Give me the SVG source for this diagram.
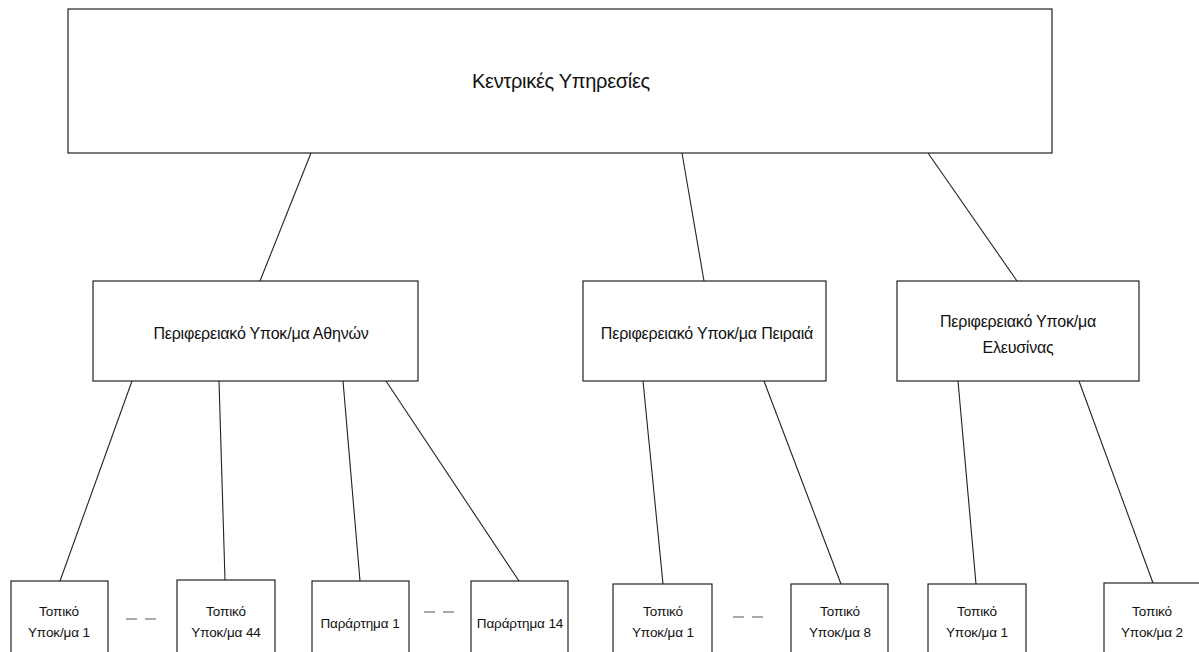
<svg xmlns="http://www.w3.org/2000/svg" width="1199" height="652" viewBox="0 0 1199 652">
  <style>
    .box { fill: #ffffff; stroke: #222222; stroke-width: 1.2; }
    .edge { stroke: #222222; stroke-width: 1.1; fill: none; }
    .dots { stroke: #555555; stroke-width: 1; stroke-dasharray: 11 8; fill: none; }
    text { font-family: "Liberation Sans", Arial, sans-serif; fill: #111111; text-anchor: middle; }
    .t1 { font-size: 20px; letter-spacing: -0.3px; }
    .t2 { font-size: 16px; letter-spacing: -0.2px; }
    .t3 { font-size: 13.5px; letter-spacing: -0.1px; }
  </style>
  <rect width="1199" height="652" fill="#ffffff"/>

  <!-- connectors -->
  <g id="connectors">
    <line class="edge" x1="311" y1="153" x2="260" y2="281"/>
    <line class="edge" x1="682" y1="153" x2="704" y2="281"/>
    <line class="edge" x1="928" y1="153" x2="1017" y2="281"/>
    <line class="edge" x1="132" y1="381" x2="60" y2="581"/>
    <line class="edge" x1="219" y1="381" x2="225" y2="580"/>
    <line class="edge" x1="343" y1="381" x2="360" y2="581"/>
    <line class="edge" x1="386" y1="381" x2="519" y2="581"/>
    <line class="edge" x1="643" y1="381" x2="663" y2="584"/>
    <line class="edge" x1="764" y1="381" x2="841" y2="584"/>
    <line class="edge" x1="958" y1="381" x2="976" y2="584"/>
    <line class="edge" x1="1079" y1="381" x2="1153" y2="583"/>
    <!-- elision marks between sibling boxes -->
    <line class="dots" x1="126" y1="619" x2="158" y2="619"/>
    <line class="dots" x1="424" y1="612" x2="456" y2="612"/>
    <line class="dots" x1="733" y1="617" x2="765" y2="617"/>
  </g>

  <g id="central">
    <rect class="box" x="68" y="9" width="984" height="144"/>
    <text class="t1" x="561" y="88">Κεντρικές Υπηρεσίες</text>
  </g>

  <g id="athens">
    <rect class="box" x="93" y="281" width="325" height="100"/>
    <text class="t2" x="261" y="339">Περιφερειακό Υποκ/μα Αθηνών</text>
  </g>
  <g id="piraeus">
    <rect class="box" x="583" y="281" width="243" height="100"/>
    <text class="t2" x="707" y="339">Περιφερειακό Υποκ/μα Πειραιά</text>
  </g>
  <g id="elefsina">
    <rect class="box" x="897" y="281" width="242" height="100"/>
    <text class="t2" x="1018" y="327">Περιφερειακό Υποκ/μα</text>
    <text class="t2" x="1018" y="353">Ελευσίνας</text>
  </g>

  <g id="local-ath-1">
    <rect class="box" x="11" y="581" width="97" height="80"/>
    <text class="t3" x="59" y="616">Τοπικό</text>
    <text class="t3" x="59" y="637">Υποκ/μα 1</text>
  </g>
  <g id="local-ath-44">
    <rect class="box" x="177" y="580" width="98" height="80"/>
    <text class="t3" x="226" y="616">Τοπικό</text>
    <text class="t3" x="226" y="637">Υποκ/μα 44</text>
  </g>
  <g id="branch-1">
    <rect class="box" x="312" y="581" width="97" height="80"/>
    <text class="t3" x="360" y="628">Παράρτημα 1</text>
  </g>
  <g id="branch-14">
    <rect class="box" x="471" y="581" width="97" height="80"/>
    <text class="t3" x="520" y="628">Παράρτημα 14</text>
  </g>
  <g id="local-pir-1">
    <rect class="box" x="613" y="584" width="99" height="80"/>
    <text class="t3" x="663" y="616">Τοπικό</text>
    <text class="t3" x="663" y="637">Υποκ/μα 1</text>
  </g>
  <g id="local-pir-8">
    <rect class="box" x="791" y="584" width="97" height="80"/>
    <text class="t3" x="840" y="616">Τοπικό</text>
    <text class="t3" x="840" y="637">Υποκ/μα 8</text>
  </g>
  <g id="local-ele-1">
    <rect class="box" x="928" y="584" width="98" height="80"/>
    <text class="t3" x="977" y="616">Τοπικό</text>
    <text class="t3" x="977" y="637">Υποκ/μα 1</text>
  </g>
  <g id="local-ele-2">
    <rect class="box" x="1104" y="583" width="100" height="80"/>
    <text class="t3" x="1152" y="616">Τοπικό</text>
    <text class="t3" x="1152" y="637">Υποκ/μα 2</text>
  </g>
</svg>
